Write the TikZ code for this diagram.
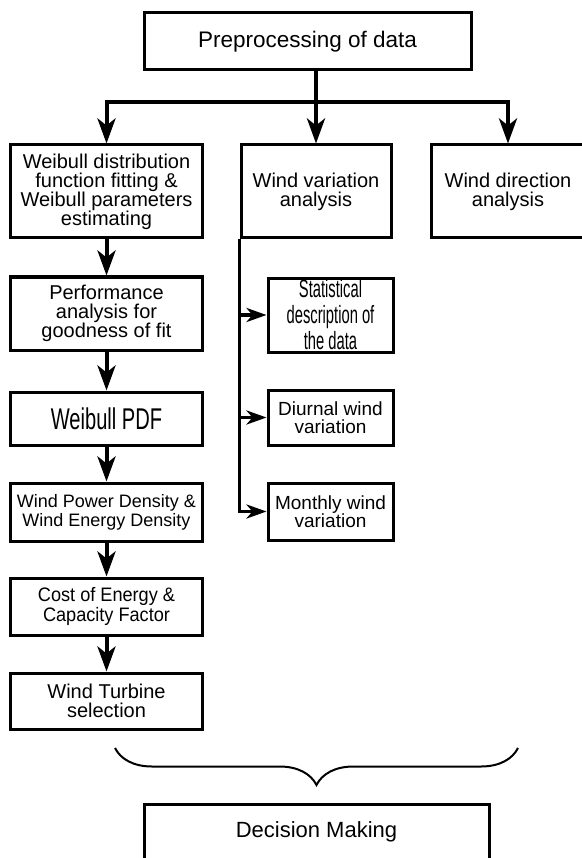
\documentclass[tikz,border=0pt]{standalone}
\usepackage{fontspec}
\setmainfont{Liberation Sans}
\newfontfamily\statfont[FakeStretch=0.59]{Liberation Sans}
\newfontfamily\pdffont[FakeStretch=0.67]{Liberation Sans}
\newfontfamily\costfont[FakeStretch=0.93]{Liberation Sans}
\usetikzlibrary{arrows.meta,decorations.pathreplacing}
\begin{document}
\begin{tikzpicture}[x=1pt, y=-1pt,
	box/.style = {draw, line width=3pt, minimum width=192pt, align=center, inner sep=0pt, font=\fontsize{20}{19}\selectfont},
	sidebox/.style = {box, minimum width=125pt},
	arr/.style = {line width=4pt, -{Stealth[length=25pt, width=18pt, inset=7pt]}},
	side/.style = {line width=3.5pt, -{Stealth[length=20pt, width=14pt, inset=6pt]}}]
	\useasboundingbox (0,0) rectangle (581,858);
	\node[box, minimum width=327pt, minimum height=57pt, font=\fontsize{22.5}{24}\selectfont] (pre) at (307.5,41.5) {Preprocessing of data};
	\node[box, minimum height=93pt] (fit) at (106.5,191.5) {Weibull distribution\\function fitting \&\\Weibull parameters\\estimating};
	\node[box, minimum width=150pt, minimum height=93pt] (var) at (316,191.5) {Wind variation\\analysis};
	\node[box, minimum width=154pt, minimum height=93pt] (dir) at (508,191.5) {Wind direction\\analysis};
	\node[box, minimum height=73pt, font=\fontsize{20}{18.5}\selectfont] (perf) at (106.5,313.5) {Performance\\analysis for\\goodness of fit};
	\node[box, minimum height=53pt, font=\pdffont\fontsize{30}{30}\selectfont] (pdf) at (106.5,418.5) {Weibull PDF};
	\node[box, minimum height=58pt, font=\fontsize{18}{19}\selectfont] (dens) at (106.5,512) {Wind Power Density \&\\Wind Energy Density};
	\node[box, minimum height=57pt, font=\costfont\fontsize{19.5}{19.5}\selectfont] (cost) at (106.5,606.5) {Cost of Energy \&\\Capacity Factor};
	\node[box, minimum height=56pt] (turb) at (106.5,701) {Wind Turbine\\selection};
	\node[sidebox, minimum height=74pt, font=\statfont\fontsize{25}{26}\selectfont] (stat) at (330.5,315) {Statistical\\description of\\the data};
	\node[sidebox, minimum height=55pt, font=\fontsize{19}{18}\selectfont] (diur) at (330.5,417.5) {Diurnal wind\\variation};
	\node[sidebox, minimum height=57pt, font=\fontsize{19}{18}\selectfont] (mon) at (330.5,511.5) {Monthly wind\\variation};
	\node[box, minimum width=345pt, minimum height=56pt, font=\fontsize{22}{24}\selectfont] (dec) at (316.5,832) {Decision Making};
	\coordinate (split) at (316,102);
	\coordinate (brl) at (115,748);
	\coordinate (brr) at (518,748);
	\draw[arr] (pre.south -| var.north) -- (var.north);
	\draw[arr] (split) -| (fit.north);
	\draw[arr] (split) -| (dir.north);
	\draw[arr] (fit) -- (perf);
	\draw[arr] (perf) -- (pdf);
	\draw[arr] (pdf) -- (dens);
	\draw[arr] (dens) -- (cost);
	\draw[arr] (cost) -- (turb);
	\draw[line width=3pt] (var.south west) -- (var.south west |- stat.west);
	\draw[side] (var.south west |- stat.west) -- (stat.west);
	\draw[side] (var.south west |- diur.west) -- (diur.west);
	\draw[side] (var.south west) |- (mon.west);
	\draw[line width=2pt, decorate, decoration={brace, mirror, amplitude=37pt}] (brl) -- (brr);
\end{tikzpicture}
\end{document}
